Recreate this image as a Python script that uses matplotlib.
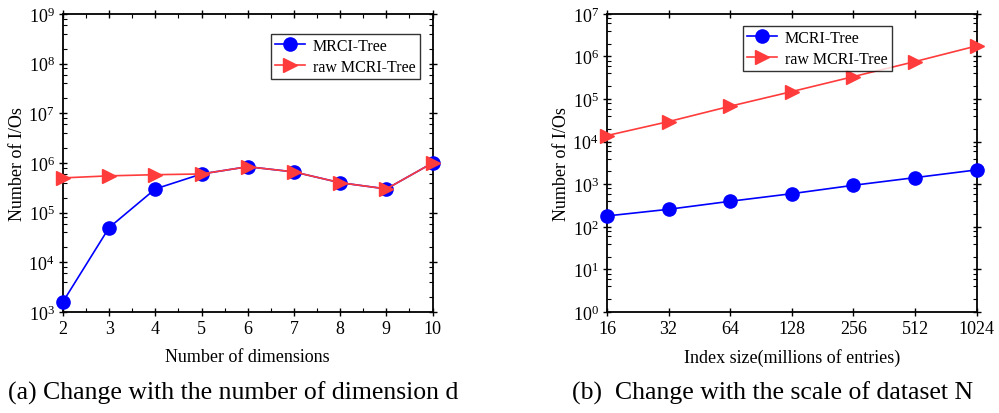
import matplotlib
matplotlib.use("Agg")
import matplotlib.pyplot as plt
from matplotlib.ticker import LogLocator, FixedLocator, FixedFormatter, MultipleLocator, NullLocator, LogFormatterSciNotation

plt.rcParams['font.family'] = ['Liberation Serif', 'DejaVu Serif']
plt.rcParams['mathtext.fontset'] = 'stix'

# Panel (a)
dims = [2, 3, 4, 5, 6, 7, 8, 9, 10]
mrci_a = [1600, 5.0e4, 3.0e5, 6.0e5, 8.4e5, 6.6e5, 4.0e5, 3.0e5, 1.0e6]
raw_a = [5.0e5, 5.5e5, 5.8e5, 6.0e5, 8.4e5, 6.6e5, 4.0e5, 3.0e5, 1.0e6]
yticks_a = [1e3, 1e4, 1e5, 1e6, 1e7, 1e8, 1e9]

# Panel (b)
sizes = [16, 32, 64, 128, 256, 512, 1024]
size_labels = ['16', '32', '64', '128', '256', '512', '1024']
mcri_b = [180, 258, 398, 600, 945, 1430, 2170]
raw_b = [1.39e4, 2.96e4, 6.8e4, 1.5e5, 3.37e5, 7.6e5, 1.77e6]
yticks_b = [1e0, 1e1, 1e2, 1e3, 1e4, 1e5, 1e6, 1e7]

blue = '#0000FF'
red = '#FF3B3B'

fig = plt.figure(figsize=(9.99, 4.14), dpi=100)
ax1 = fig.add_axes([0.063, 0.244, 0.370, 0.720])
ax2 = fig.add_axes([0.6076, 0.244, 0.370, 0.720])

def style(ax):
    for s in ax.spines.values():
        s.set_linewidth(1.3)
    ax.tick_params(which='major', direction='inout', length=6, width=1.0,
                   top=True, right=True, labelsize=13, pad=3)
    ax.tick_params(which='minor', direction='in', length=3, width=0.8,
                   top=True, right=True)

def minor_log(ticks):
    return [d * s for d in ticks[:-1] for s in (2, 4, 6, 8)]

legend_kw = dict(fontsize=11.5, frameon=True, fancybox=False, edgecolor='black',
                 borderpad=0.25, handlelength=1.9, labelspacing=0.3,
                 handletextpad=0.5, borderaxespad=0)

ax1.plot(dims, mrci_a, color=blue, marker='o', markersize=9.5, lw=1.2,
         label='MRCI-Tree', clip_on=False, zorder=3)
ax1.plot(dims, raw_a, color=red, marker='>', markersize=10.5, lw=1.2,
         label='raw MCRI-Tree', clip_on=False, zorder=4)
ax1.set_yscale('log')
ax1.set_ylim(yticks_a[0], yticks_a[-1])
ax1.set_xlim(dims[0], dims[-1])
ax1.xaxis.set_major_locator(FixedLocator(dims))
ax1.xaxis.set_minor_locator(FixedLocator([d + 0.5 for d in dims[:-1]]))
ax1.yaxis.set_major_locator(FixedLocator(yticks_a))
ax1.yaxis.set_major_formatter(LogFormatterSciNotation())
ax1.yaxis.set_minor_locator(FixedLocator(minor_log(yticks_a)))
ax1.yaxis.set_minor_formatter(FixedFormatter([]))
ax1.set_xlabel('Number of dimensions', fontsize=13, labelpad=8)
ax1.set_ylabel('Number of I/Os', fontsize=13, labelpad=2)
style(ax1)
leg1 = ax1.legend(loc='upper right', bbox_to_anchor=(0.965, 0.933), **legend_kw)
leg1.get_frame().set_linewidth(1.0)

ax2.plot(sizes, mcri_b, color=blue, marker='o', markersize=9.5, lw=1.2,
         label='MCRI-Tree', clip_on=False, zorder=3)
ax2.plot(sizes, raw_b, color=red, marker='>', markersize=10.5, lw=1.2,
         label='raw MCRI-Tree', clip_on=False, zorder=4)
ax2.set_xscale('log', base=2)
ax2.set_yscale('log')
ax2.set_xlim(sizes[0], sizes[-1])
ax2.set_ylim(yticks_b[0], yticks_b[-1])
ax2.xaxis.set_major_locator(FixedLocator(sizes))
ax2.xaxis.set_major_formatter(FixedFormatter(size_labels))
ax2.xaxis.set_minor_locator(NullLocator())
ax2.yaxis.set_major_locator(FixedLocator(yticks_b))
ax2.yaxis.set_major_formatter(LogFormatterSciNotation())
ax2.yaxis.set_minor_locator(FixedLocator(minor_log(yticks_b)))
ax2.yaxis.set_minor_formatter(FixedFormatter([]))
ax2.set_xlabel('Index size(millions of entries)', fontsize=13, labelpad=8)
ax2.set_ylabel('Number of I/Os', fontsize=13, labelpad=2)
style(ax2)
leg2 = ax2.legend(loc='upper left', bbox_to_anchor=(0.367, 0.96), **legend_kw)
leg2.get_frame().set_linewidth(1.0)

fig.text(0.008, 0.035, '(a) Change with the number of dimension d', fontsize=18.5,
         ha='left', va='baseline')
fig.text(0.573, 0.035, '(b)  Change with the scale of dataset N', fontsize=18.5,
         ha='left', va='baseline')

fig.savefig('out.png', dpi=100)
